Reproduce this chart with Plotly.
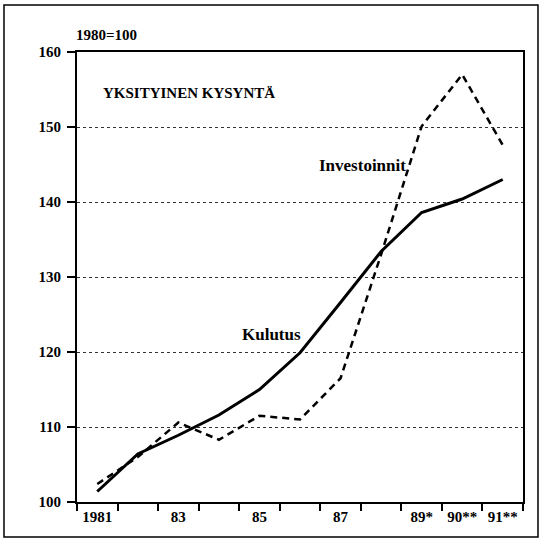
import plotly.graph_objects as go

# Yksityinen kysyntä, 1980=100
years = [1981, 1982, 1983, 1984, 1985, 1986, 1987, 1988, 1989, 1990, 1991]
kulutus = [101.4, 106.4, 108.9, 111.6, 115.0, 119.9, 126.6, 133.4, 138.6, 140.4, 143.0]
investoinnit = [102.4, 106.0, 110.6, 108.3, 111.5, 111.0, 116.5, 133.0, 150.1, 157.0, 147.6]

tick_years = [1981, 1983, 1985, 1987, 1989, 1990, 1991]
tick_labels = ["1981", "83", "85", "87", "89*", "90**", "91**"]

SERIF = "Liberation Serif, Times New Roman, serif"

fig = go.Figure()
fig.add_trace(go.Scatter(x=years, y=investoinnit, mode="lines", name="Investoinnit",
                         line=dict(color="black", width=2.5, dash="7px,5px")))
fig.add_trace(go.Scatter(x=years, y=kulutus, mode="lines", name="Kulutus",
                         line=dict(color="black", width=3)))

fig.update_layout(
    width=544, height=541,
    margin=dict(l=77, r=21, t=52, b=39),
    paper_bgcolor="white", plot_bgcolor="white",
    showlegend=False,
    font=dict(family=SERIF, color="black"),
)

fig.update_xaxes(
    range=[1980.5, 1991.5],
    tickvals=tick_years, ticktext=tick_labels,
    ticks="outside", ticklen=0, ticklabelstandoff=0,
    tickfont=dict(family=SERIF, size=15, weight="bold"),
    minor=dict(tick0=0.5, dtick=1, ticks="outside", ticklen=7, tickcolor="black", tickwidth=1.5),
    showgrid=False, zeroline=False,
    showline=True, linecolor="black", linewidth=2, mirror=True,
)
fig.update_yaxes(
    range=[100, 160], dtick=10,
    ticks="outside", ticklen=8, tickcolor="black", tickwidth=1.5,
    ticklabelstandoff=3,
    tickfont=dict(family=SERIF, size=15, weight="bold"),
    showgrid=True, gridcolor="#333", griddash="dot", gridwidth=1,
    zeroline=False,
    showline=True, linecolor="black", linewidth=2, mirror=True,
)

# outer frame
fig.add_shape(type="rect", xref="paper", yref="paper",
              x0=-0.1637, x1=1.0336, y0=-0.0778, y1=1.1044,
              line=dict(color="black", width=1.5))

fig.add_annotation(text="1980=100", xref="paper", yref="paper", x=-0.007, y=1.038,
                   xanchor="left", yanchor="middle", showarrow=False,
                   font=dict(family=SERIF, size=15, weight="bold"))
fig.add_annotation(text="YKSITYINEN KYSYNTÄ", x=1983.25, y=154.5, showarrow=False,
                   font=dict(family=SERIF, size=15, weight="bold"))
fig.add_annotation(text="Investoinnit", x=1987.55, y=144.9, showarrow=False,
                   font=dict(family=SERIF, size=17, weight="bold"))
fig.add_annotation(text="Kulutus", x=1985.3, y=122.4, showarrow=False,
                   font=dict(family=SERIF, size=17, weight="bold"))

fig.write_html("out.html", config={"displayModeBar": False},
               post_script="document.body.style.margin='0';")
